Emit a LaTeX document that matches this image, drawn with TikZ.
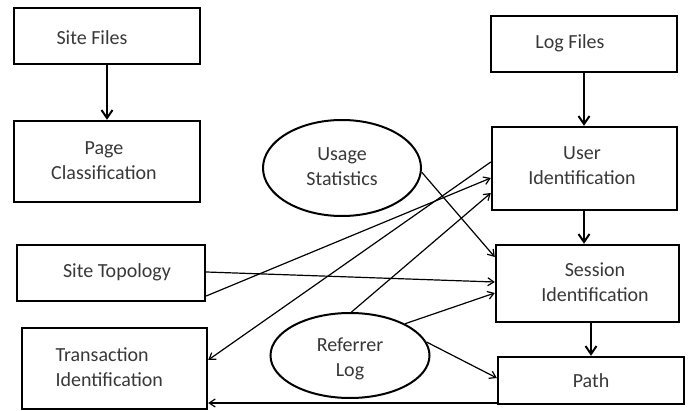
\documentclass[tikz,border=0pt]{standalone}
\usepackage{fontspec}
\setmainfont{Carlito}
\usetikzlibrary{arrows.meta,shapes.geometric,calc}
\begin{document}
\begin{tikzpicture}[x=1pt,y=-1pt,
  box/.style={draw=black,line width=2.4pt,rectangle,inner sep=0pt},
  oval/.style={draw=black,line width=2pt,ellipse,inner sep=0pt},
  txt/.style={text=black!78,font=\fontsize{20}{25}\selectfont,align=center},
  thick arrow/.style={line width=2pt,-{Straight Barb[length=8pt,width=11pt,line width=2pt]}},
  thin arrow/.style={line width=1.2pt,-{Straight Barb[length=6pt,width=8pt,line width=1.2pt]}},
  thin line/.style={line width=1.2pt}
]
\useasboundingbox (0,0) rectangle (688,411);
% boxes
\node[box,minimum width=186pt,minimum height=56pt] (sf) at (107,36) {};
\node[txt] at (92,38) {Site Files};
\node[box,minimum width=186pt,minimum height=81pt] (pc) at (107,161.5) {};
\node[txt] at (104,161) {Page\\Classification};
\node[box,minimum width=186pt,minimum height=56pt] (lf) at (584,44) {};
\node[txt] at (570,43) {Log Files};
\node[box,minimum width=185pt,minimum height=83pt] (ui) at (584.5,168.5) {};
\node[txt] at (582,166) {User\\Identification};
\node[box,minimum width=183pt,minimum height=77pt] (si) at (587.5,283.5) {};
\node[txt] at (595,282) {Session\\Identification};
\node[box,minimum width=186pt,minimum height=47pt] (pa) at (591,380.5) {};
\node[txt] at (591,381) {Path};
\node[box,minimum width=188pt,minimum height=56pt] (st) at (111,273) {};
\node[txt] at (117,272) {Site Topology};
\node[box,minimum width=185pt,minimum height=81pt] (ti) at (114.5,368.5) {};
\node[txt,align=left,anchor=west] at (52,367) {Transaction\\Identification};
% ellipses
\node[oval,minimum width=158pt,minimum height=96pt] (us) at (342,168) {};
\node[txt] at (342,167) {Usage\\Statistics};
\node[oval,minimum width=159pt,minimum height=85pt] (rl) at (350,355.5) {};
\node[txt] at (350,359) {Referrer\\Log};
% thick arrows
\draw[thick arrow] (sf.south) -- (pc.north);
\draw[thick arrow] (lf.south) -- (lf.south |- ui.north);
\draw[thick arrow] (lf.south |- ui.south) -- (lf.south |- si.north);
\draw[thick arrow] (pa.north |- si.south) -- (pa.north);
% thin connectors
\draw[thin arrow] (us.-3) -- (si.west |- 0,257);
\draw[thin arrow] (st.east |- 0,272) -- (si.west |- 0,282);
\draw[thin arrow] (st.east |- 0,296) -- (ui.west |- 0,178);
\draw[thin arrow] (ui.west |- 0,162) -- (ti.east |- 0,360);
\draw[thin arrow] (rl.88) -- (ui.west |- 0,193);
\draw[thin arrow] (rl.30) -- (si.west |- 0,293);
\draw[thin arrow] (rl.10) -- (pa.west |- 0,378);
\draw[thin arrow] (pa.west |- 0,403) -- (ti.east |- 0,403);
\end{tikzpicture}
\end{document}
